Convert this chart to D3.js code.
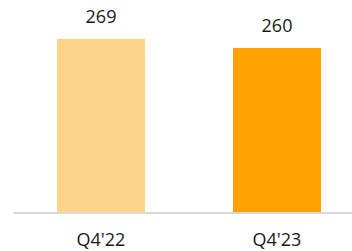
<!DOCTYPE html>
<html>
<head>
<meta charset="utf-8">
<script src="https://cdn.jsdelivr.net/npm/d3@7"></script>
<style>
  html, body { margin: 0; padding: 0; background: #fff; }
  svg { display: block; font-family: "Open Sans", "Noto Sans", sans-serif; }
</style>
</head>
<body>
<svg id="chart" width="352" height="251"></svg>
<script>
// data
const categories = ["Q4'22", "Q4'23"];
const values = [269, 260];
const barColors = ["#FED48A", "#FFA100"];

const width = 352, height = 251;
const svg = d3.select('#chart');

// band scale: bars 88px wide, same gap between them
const x = d3.scaleBand()
  .domain(categories)
  .range([13, 365])
  .paddingInner(0.5)
  .paddingOuter(0.25);

// value axis does not start at zero in the original
const y = d3.scaleLinear()
  .domain([96, 269])
  .range([212, 39]);

const data = categories.map((c, i) => ({ cat: c, value: values[i], color: barColors[i] }));

svg.append('g')
  .selectAll('rect')
  .data(data)
  .join('rect')
  .attr('x', d => x(d.cat))
  .attr('y', d => y(d.value))
  .attr('width', x.bandwidth())
  .attr('height', d => y.range()[0] - y(d.value))
  .attr('fill', d => d.color);

// baseline
svg.append('line')
  .attr('x1', 13)
  .attr('x2', width)
  .attr('y1', 213)
  .attr('y2', 213)
  .attr('stroke', '#d9d9d9')
  .attr('stroke-width', 2);

// value labels
svg.append('g')
  .selectAll('text')
  .data(data)
  .join('text')
  .attr('x', d => x(d.cat) + x.bandwidth() / 2)
  .attr('y', d => y(d.value) - 16.5)
  .attr('text-anchor', 'middle')
  .attr('font-size', 18)
  .attr('fill', '#1a1a1a')
  .text(d => d.value);

// category labels
svg.append('g')
  .selectAll('text')
  .data(data)
  .join('text')
  .attr('x', d => x(d.cat) + x.bandwidth() / 2)
  .attr('y', 246)
  .attr('text-anchor', 'middle')
  .attr('font-size', 18)
  .attr('fill', '#1a1a1a')
  .text(d => d.cat);
</script>
</body>
</html>
